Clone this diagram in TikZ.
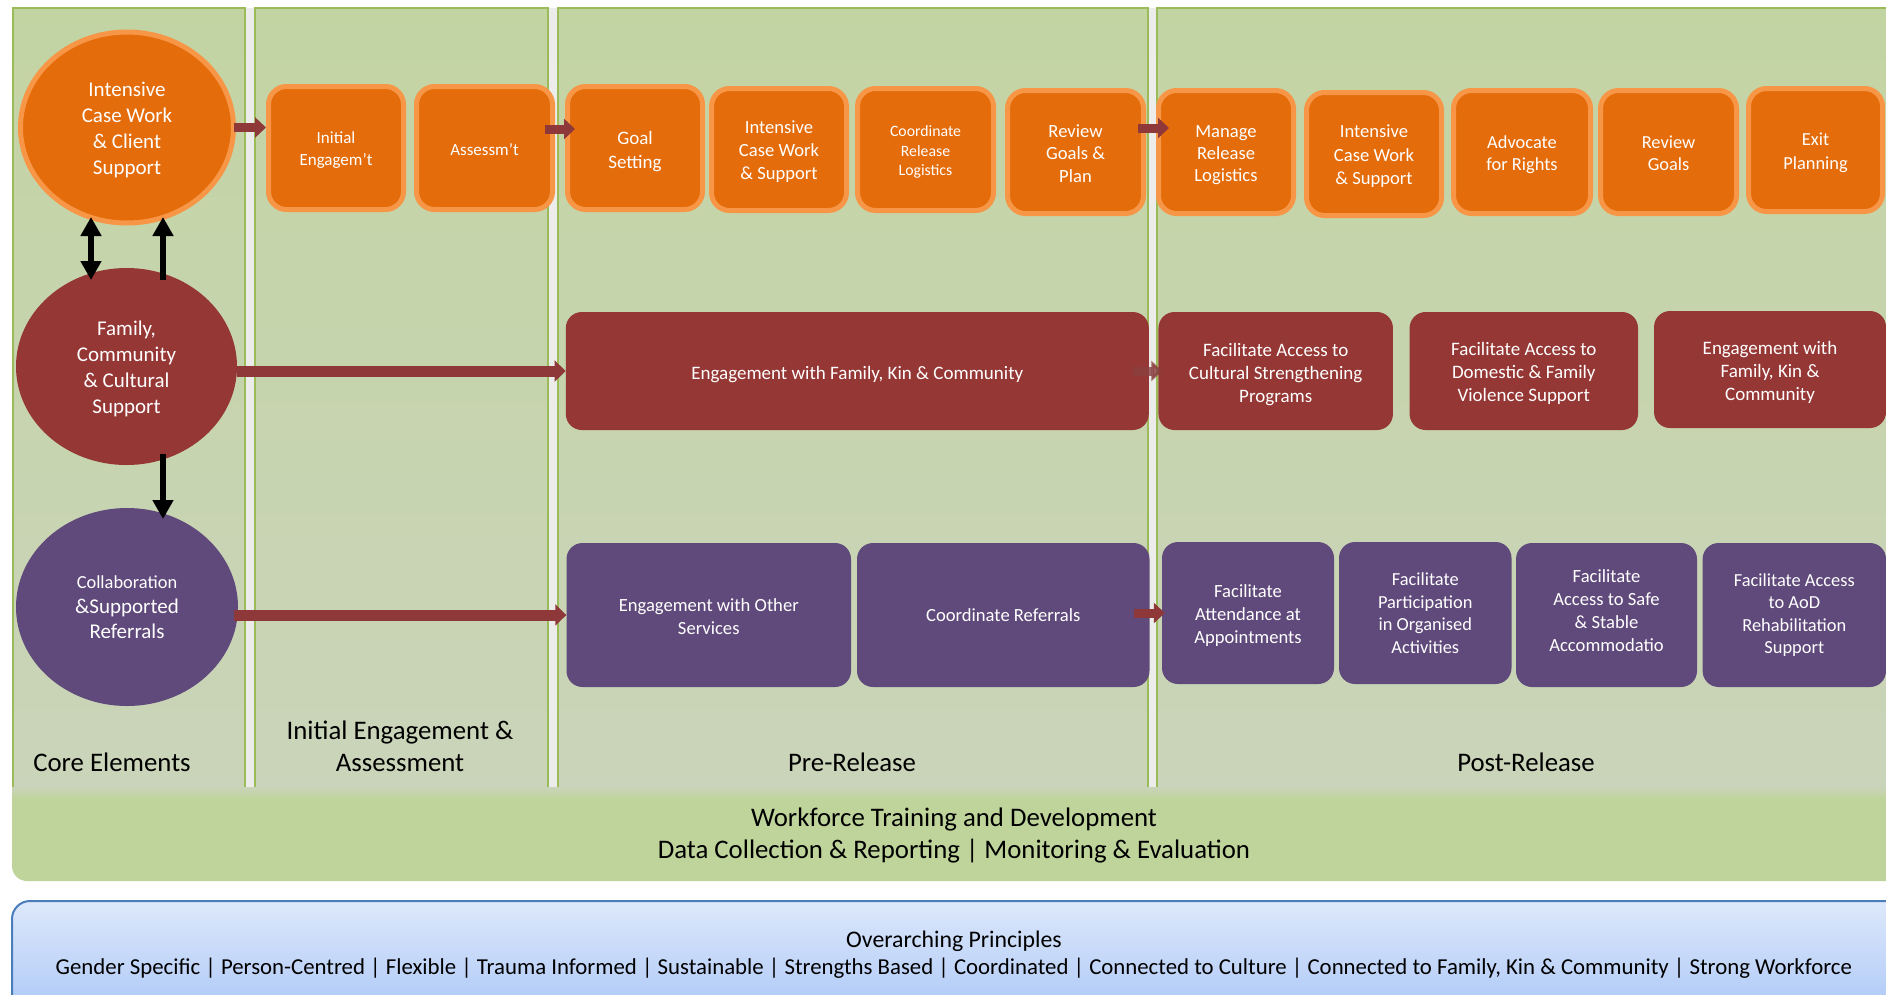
\documentclass[tikz,border=0pt]{standalone}
\usepackage{fontspec}
\setmainfont{Carlito}
\usetikzlibrary{arrows.meta,shapes.geometric}
\definecolor{colTop}{HTML}{C3D4A3}
\definecolor{colBot}{HTML}{CAD4BA}
\definecolor{colLine}{HTML}{9BBB59}
\definecolor{bandG}{HTML}{BFD49B}
\definecolor{gapG}{HTML}{ECEDEA}
\definecolor{orFill}{HTML}{E46C0A}
\definecolor{orLine}{HTML}{F79646}
\definecolor{rdFill}{HTML}{953735}
\definecolor{puFill}{HTML}{604A7B}
\definecolor{arRed}{HTML}{8E383A}
\definecolor{arFade}{HTML}{8A4040}
\definecolor{blTop}{HTML}{DDE8FB}
\definecolor{blBot}{HTML}{A6C4F6}
\definecolor{blLine}{HTML}{4A7EBB}
\newcommand{\fs}[2]{\fontsize{#1}{#2}\selectfont}
\newcommand{\sd}[1]{\setbox0\hbox{l}\rule{0pt}{\dimexpr\ht0+#1\relax}}
\begin{document}
\begin{tikzpicture}[x=1pt,y=-1pt,
  tup/.style={execute at end node={\rule[-#1]{0pt}{#1}}},
  obox/.style={draw=orLine, line width=5pt, fill=orFill, rounded corners=18pt, text=white, align=center, inner sep=0pt},
  rbox/.style={fill=rdFill, rounded corners=16pt, text=white, align=center, inner sep=0pt, font=\fs{19}{23}},
  pbox/.style={fill=puFill, rounded corners=16pt, text=white, align=center, inner sep=0pt, font=\fs{18.6}{23}},
  circ/.style={ellipse, inner sep=0pt, text=white, align=center, font=\fs{21}{26}},
  blk/.style={draw=arRed, line width=9pt, -{Triangle[width=20pt,length=11pt]}},
  blkf/.style={draw=arFade, line width=9pt, opacity=0.8, -{Triangle[width=20pt,length=11pt]}},
  blkL/.style={draw=arRed, line width=11pt, -{Triangle[width=21pt,length=11pt]}},
  bk/.style={draw=black, line width=6pt},
  lbl/.style={font=\fs{26.8}{32}, align=center, text=black},
  colbg/.style={top color=colTop, bottom color=colBot},
  colrule/.style={draw=colLine, line width=1.2pt}
]
\useasboundingbox (0,0) rectangle (1886,994);
\clip (0,0) rectangle (1886,994);
\fill[white] (0,0) rectangle (1886,994);

% bottom band
\fill[bandG] (12,770) -- (12,866) arc[start angle=180, end angle=90, radius=15] -- (1900,881) -- (1900,770) -- cycle;
% gaps between columns
\fill[gapG] (245,8) rectangle (256,790);
\fill[gapG] (548,8) rectangle (558,790);
\fill[gapG] (1148,8) rectangle (1157,790);
% columns
\fill[colbg] (13,8) rectangle (245,795);
\fill[colbg] (255,8) rectangle (548,795);
\fill[colbg] (558,8) rectangle (1148,795);
\fill[colbg] (1157,8) rectangle (1890,795);
\draw[colrule] (13,790) |- (245,8) -- (245,790);
\draw[colrule] (255,790) |- (548,8) -- (548,790);
\draw[colrule] (558,790) |- (1148,8) -- (1148,790);
\draw[colrule] (1157,790) |- (1890,8);
\shade[top color=colBot, bottom color=bandG] (12,787) rectangle (1890,799);

% blue principles box
\draw[blLine, line width=2pt, top color=blTop, bottom color=blBot, rounded corners=18pt] (12,901) rectangle (1910,1030);

% core element circles
\node[circ, draw=orLine, line width=5pt, fill=orFill, minimum width=213pt, minimum height=191pt] (oc) at (127,127.5) {\sd{5pt}Intensive\\Case Work\\\& Client\\Support};
\node[circ, fill=rdFill, minimum width=221pt, minimum height=197pt] (rc) at (126.5,366.5) {\sd{5pt}Family,\\Community\\\& Cultural\\Support};
\node[circ, fill=puFill, minimum width=222pt, minimum height=198pt, font=\fs{21}{25}] (pc) at (127,607) {{\fs{18.4}{25}Collaboration}\\\&Supported\\Referrals};

% orange row
\node[obox, minimum width=135pt, minimum height=123pt, font=\fs{17}{22}] (o1) at (336,148) {\sd{5pt}Initial\\Engagem't};
\node[obox, minimum width=136pt, minimum height=123pt, font=\fs{17}{22}] (o2) at (484.5,148) {\sd{3pt}Assessm't};
\node[obox, minimum width=135pt, minimum height=123pt, font=\fs{19}{24}] (o3) at (635,148) {\sd{7pt}Goal\\Setting};
\node[obox, minimum width=135pt, minimum height=122pt, font=\fs{18.6}{23}] (o4) at (779,149.5) {\sd{5pt}Intensive\\Case Work\\\& Support};
\node[obox, minimum width=136pt, minimum height=122pt, font=\fs{15.8}{19.5}] (o5) at (925.5,149.5) {\sd{5pt}Coordinate\\Release\\Logistics};
\node[obox, minimum width=136pt, minimum height=123pt, font=\fs{18.6}{22.5}] (o6) at (1075.5,152) {\sd{3pt}Review\\Goals \&\\Plan};
\node[obox, minimum width=135pt, minimum height=123pt, font=\fs{18.6}{22}] (o7) at (1226,152) {\sd{5pt}Manage\\Release\\Logistics};
\node[obox, minimum width=135pt, minimum height=123pt, font=\fs{18.6}{23.5}] (o8) at (1374,154) {\sd{5pt}Intensive\\Case Work\\\& Support};
\node[obox, minimum width=137pt, minimum height=123pt, font=\fs{18.4}{22}] (o9) at (1522,152) {\sd{5pt}Advocate\\for Rights};
\node[obox, minimum width=136pt, minimum height=123pt, font=\fs{18.4}{22}] (o10) at (1668.5,152) {\sd{3pt}Review\\Goals};
\node[obox, minimum width=134pt, minimum height=123pt, font=\fs{18.4}{24}] (o11) at (1815.5,150) {\sd{5pt}Exit\\Planning};

% red row
\node[rbox, minimum width=583pt, minimum height=118pt] (r1) at (857.3,371) {\sd{7pt}Engagement with Family, Kin \& Community};
\node[rbox, minimum width=234.5pt, minimum height=118pt] (r2) at (1275.7,371) {\sd{7pt}Facilitate Access to\\Cultural Strengthening\\Programs};
\node[rbox, minimum width=228.4pt, minimum height=118pt] (r3) at (1523.8,371) {\sd{5pt}Facilitate Access to\\Domestic \& Family\\Violence Support};
\node[rbox, minimum width=232pt, minimum height=117pt] (r4) at (1770,369.5) {\sd{5pt}Engagement with\\Family, Kin \&\\Community};

% purple row
\node[pbox, minimum width=284.5pt, minimum height=144pt] (p1) at (708.75,615) {\sd{2.5pt}Engagement with Other\\Services};
\node[pbox, minimum width=292.5pt, minimum height=144pt] (p2) at (1003.25,615) {Coordinate Referrals};
\node[pbox, minimum width=172pt, minimum height=142pt] (p3) at (1248,613) {\sd{5pt}Facilitate\\Attendance at\\Appointments};
\node[pbox, minimum width=172.5pt, minimum height=142pt, font=\fs{18.4}{22.6}] (p4) at (1425.25,613) {Facilitate\\Participation\\in Organised\\Activities};
\node[pbox, minimum width=181pt, minimum height=144pt, tup=9.6pt] (p5) at (1606.5,615) {Facilitate\\Access to Safe\\\& Stable\\Accommodatio};
\node[pbox, minimum width=183.4pt, minimum height=144pt, font=\fs{18.4}{22.5}] (p6) at (1794.3,615) {Facilitate Access\\to AoD\\Rehabilitation\\Support};

% red block arrows
\draw[blk] ([xshift=-2pt]oc.east) -- (oc.east -| o1.west);
\draw[blk] ([shift={(-10,-19)}]o2.east) -- ([shift={(10,-19)}]o3.west);
\draw[blk] ([shift={(-8,-24)}]o6.east) -- ([shift={(13,-24)}]o7.west);
\draw[blkf] ([xshift=-16pt]r1.east) -- ([xshift=4pt]r2.west);
\draw[blk] ([shift={(-16,-2)}]p2.east) -- ([xshift=3pt]p3.west);
\draw[blkL] (r1.west -| rc.east) -- (r1.west);
\draw[blkL] ([xshift=-4pt]p1.west -| pc.east) -- (p1.west);

% black arrows
\draw[bk, {Triangle[width=20pt,length=19pt]}-{Triangle[width=20pt,length=19pt]}] ([shift={(-36,89.5)}]oc.center) -- ([shift={(-35.5,-86.5)}]rc.center);
\draw[bk, -{Triangle[width=20pt,length=19pt]}] ([shift={(36.5,-86.5)}]rc.center) -- ([shift={(36,89.5)}]oc.center);
\draw[bk, -{Triangle[width=20pt,length=19pt]}] ([shift={(36.5,87.5)}]rc.center) -- ([shift={(36,-88)}]pc.center);

% column labels
\node[lbl] (lc) at (112,762) {Core Elements};
\node[lbl] (li) at (400,746) {Initial Engagement \&\\Assessment};
\node[lbl] (lp) at (852,762) {Pre-Release};
\node[lbl] (lq) at (1526,762) {Post-Release};

% band text
\node[font=\fs{26.8}{32.5}, align=center] (wf) at (954,835.5) {Workforce Training and Development\\Data Collection \& Reporting | Monitoring \& Evaluation};

% principles text
\node[font=\fs{22.8}{27.6}, align=center] (op) at (954,954.5) {{\fs{23.8}{27.6}Overarching Principles}\\Gender Specific | Person-Centred | Flexible | Trauma Informed | Sustainable | Strengths Based | Coordinated | Connected to Culture | Connected to Family, Kin \& Community | Strong Workforce};
\end{tikzpicture}
\end{document}
